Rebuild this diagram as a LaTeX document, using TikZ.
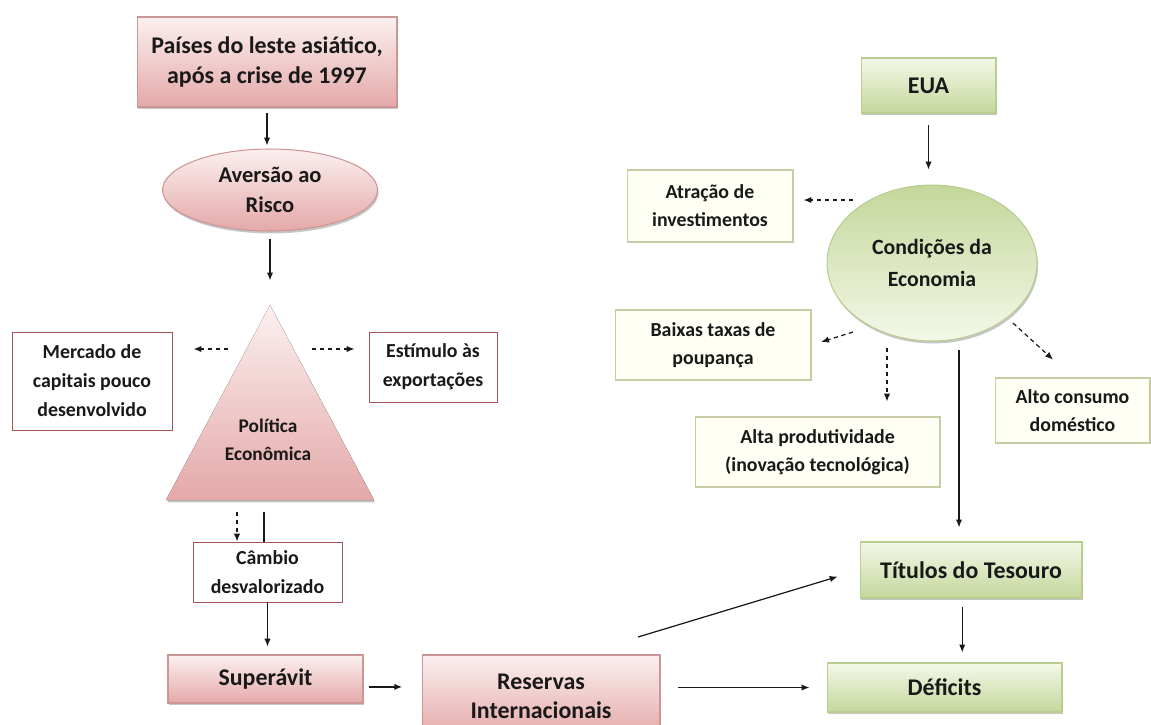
\documentclass[tikz,border=0pt]{standalone}
\usepackage{fontspec}
\setmainfont{Carlito}
\usetikzlibrary{arrows.meta,shapes.geometric,shadows,calc}
\definecolor{pk_hi}{RGB}{252,240,240}
\definecolor{pk_lo}{RGB}{228,168,168}
\definecolor{pk_line}{RGB}{205,150,150}
\definecolor{pk_edge}{RGB}{165,85,85}
\definecolor{gr_hi}{RGB}{244,248,232}
\definecolor{gr_lo}{RGB}{196,215,155}
\definecolor{gr_line}{RGB}{185,205,145}
\definecolor{gr_fill}{RGB}{255,255,246}
\definecolor{gr_edge}{RGB}{200,204,165}
\definecolor{ink}{RGB}{25,25,25}
\tikzstyle{pk}=[rectangle,top color=pk_hi,bottom color=pk_lo,draw=pk_line,
  line width=0.6pt,drop shadow={shadow xshift=0.6pt,shadow yshift=-1.4pt,fill=black!45},
  align=center,text=ink,font=\fontsize{13.6}{17.5}\selectfont\bfseries]
\tikzstyle{gr}=[rectangle,top color=gr_hi,bottom color=gr_lo,draw=gr_line,
  line width=0.6pt,drop shadow={shadow xshift=0.6pt,shadow yshift=-1.4pt,fill=black!45},
  align=center,text=ink,font=\fontsize{13.6}{17.5}\selectfont\bfseries]
\tikzstyle{pkside}=[rectangle,fill=white,draw=pk_edge,line width=0.5pt,
  align=center,text=ink,font=\fontsize{11.3}{16.5}\selectfont\bfseries]
\tikzstyle{grside}=[rectangle,fill=gr_fill,draw=gr_edge,line width=0.6pt,
  align=center,text=ink,font=\fontsize{11.3}{16}\selectfont\bfseries]
\tikzstyle{arr}=[-{Latex[length=4.5pt,width=3.6pt]},line width=0.7pt,draw=ink]
\tikzstyle{darr}=[arr,dash pattern=on 2.5pt off 2pt]

\begin{document}
\begin{tikzpicture}[x=0.02cm,y=-0.02cm]
    \useasboundingbox (0,0) rectangle (1151,724);
    % left column
    \node [style=pk,minimum width=5.2cm,minimum height=1.8cm] (paises) at (267,62) {Países do leste asiático,\\após a crise de 1997};
    \node [style=pk,ellipse,minimum width=4.3cm,minimum height=1.6cm,font=\fontsize{12.8}{17.5}\selectfont\bfseries] (aversao) at (270,190) {Aversão ao\\Risco};
    \coordinate (apex) at (270,305);
    \coordinate (bl) at (166,500);
    \coordinate (br) at (374,500);
    \fill [top color=pk_hi,bottom color=pk_lo,drop shadow={shadow xshift=0.6pt,shadow yshift=-1.4pt,fill=black!45}] (apex) -- (br) -- (bl) -- cycle;
    \node [align=center,text=ink,font=\fontsize{11}{16}\selectfont\bfseries] (pol) at (268,440) {Política\\Econômica};
    \node [style=pkside,minimum width=3.2cm,minimum height=1.96cm] (merc) at (92,381) {Mercado de\\capitais pouco\\desenvolvido};
    \node [style=pkside,minimum width=2.56cm,minimum height=1.4cm] (estim) at (433,367) {Estímulo às\\exportações};
    \node [style=pkside,minimum width=2.98cm,minimum height=1.2cm] (cambio) at (267.5,572) {Câmbio\\desvalorizado};
    \node [style=pk,minimum width=3.9cm,minimum height=0.96cm] (superavit) at (265.5,679) {Superávit};
    \node [style=pk,minimum width=4.76cm,minimum height=1.64cm,font=\fontsize{13.6}{16.5}\selectfont\bfseries] (reservas) at (541,696) {Reservas\\Internacionais};
    % right column
    \node [style=gr,minimum width=2.7cm,minimum height=1.1cm] (eua) at (928.5,85.5) {EUA};
    \node [style=gr,ellipse,minimum width=4.2cm,minimum height=3.12cm,top color=gr_lo,bottom color=gr_hi,font=\fontsize{12.4}{18.5}\selectfont\bfseries] (condicoes) at (932,263) {Condições da\\Economia};
    \node [style=grside,minimum width=3.32cm,minimum height=1.44cm] (atracao) at (710,206) {Atração de\\investimentos};
    \node [style=grside,minimum width=3.92cm,minimum height=1.4cm] (baixas) at (713,345) {Baixas taxas de\\poupança};
    \node [style=grside,minimum width=4.9cm,minimum height=1.4cm] (alta) at (817.5,452) {Alta produtividade\\(inovação tecnológica)};
    \node [style=grside,minimum width=3.1cm,minimum height=1.3cm] (alto) at (1072.5,410.5) {Alto consumo\\doméstico};
    \node [style=gr,minimum width=4.44cm,minimum height=1.12cm] (titulos) at (971,570) {Títulos do Tesouro};
    \node [style=gr,minimum width=4.7cm,minimum height=0.98cm] (deficits) at (944.5,687.5) {Déficits};
    \coordinate (polL) at (228,349);
    \coordinate (polR) at (312,349);
    \coordinate (polB1) at (237,512);
    \coordinate (polB2) at (264,512);
    \coordinate (resT) at (638,637);
    \coordinate (condA) at (853,200);
    \coordinate (condB) at (853,332);
    \coordinate (condC) at (887,348);
    \coordinate (condD) at (959,350);
    \coordinate (condE) at (1013,323);
    \draw [style=arr,shorten <=3.4pt,shorten >=1.7pt] (paises.south) -- (paises.south |- aversao.north);
    \draw [style=arr,shorten <=4pt,shorten >=14pt] (aversao.south) -- (apex);
    \draw [style=darr,shorten >=12pt] (polL) -- (polL -| merc.east);
    \draw [style=darr,shorten >=8pt] (polR) -- (polR -| estim.west);
    \draw [style=darr] (polB1) -- (polB1 |- cambio.north);
    \draw [line width=0.7pt,draw=ink] (polB2) -- (polB2 |- cambio.north);
    \draw [style=arr,shorten >=4.5pt] (cambio.south) -- (cambio.south |- superavit.north);
    \draw [style=arr,shorten <=3pt,shorten >=11pt] ([yshift=-4.5pt]superavit.east) -- ([yshift=-4.5pt]superavit.east -| reservas.west);
    \draw [style=arr,shorten >=13pt] (resT) -- (titulos.west);
    \draw [style=arr,shorten <=10pt,shorten >=9.7pt] (deficits.west -| reservas.east) -- (deficits.west);
    \draw [style=arr,shorten <=5pt,shorten >=5.7pt] ([xshift=-5pt]titulos.south) -- ([xshift=-5pt]titulos.south |- deficits.north);
    \draw [style=arr,shorten <=6.8pt,shorten >=8.5pt] (eua.south) -- (eua.south |- condicoes.north);
    \draw [style=darr,shorten >=5.7pt] (condA) -- (condA -| atracao.east);
    \draw [style=darr,shorten >=5.7pt] (condB) -- (baixas.east);
    \draw [style=darr,shorten >=8.5pt] (condC) -- (condC |- alta.north);
    \draw [style=arr,shorten >=8pt] (condD) -- (condD |- titulos.north);
    \draw [style=darr,shorten >=15pt] (condE) -- (alto.north);
\end{tikzpicture}
\end{document}
